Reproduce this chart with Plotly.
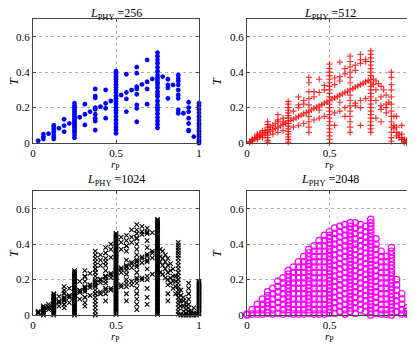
import plotly.graph_objects as go

# ---- data: columns of r_P positions with the T values read at each ----
r_256 = [0.03125, 0.0625, 0.09375, 0.125, 0.15625, 0.1875, 0.21875, 0.25, 0.28125, 0.3125,
         0.34375, 0.375, 0.40625, 0.4375, 0.46875, 0.5, 0.53125, 0.5625, 0.59375, 0.625,
         0.65625, 0.6875, 0.71875, 0.75, 0.78125, 0.8125, 0.84375, 0.875, 0.90625, 0.9375,
         0.96875, 1.0]
T_256 = [
    [0.013], [0.05, 0.035, 0.023], [0.053],
    [0.10, 0.09, 0.08, 0.065, 0.05, 0.036, 0.023], [0.083], [0.134, 0.098, 0.064], [0.111],
    [0.225, 0.21, 0.2, 0.19, 0.18, 0.17, 0.16, 0.15, 0.14, 0.13, 0.12, 0.11, 0.10, 0.09,
     0.08, 0.07, 0.06, 0.045, 0.03],
    [0.145], [0.219, 0.162, 0.102], [0.177],
    [0.305, 0.265, 0.255, 0.2, 0.19, 0.162, 0.14, 0.124, 0.073], [0.205],
    [0.30, 0.224, 0.196, 0.14], [0.237],
    [0.405, 0.39, 0.375, 0.36, 0.345, 0.33, 0.315, 0.30, 0.285, 0.265, 0.25, 0.235, 0.22,
     0.20, 0.185, 0.17, 0.15, 0.13, 0.11, 0.09, 0.075, 0.055],
    [0.271], [0.388, 0.286, 0.249, 0.177], [0.299],
    [0.428, 0.394, 0.318, 0.305, 0.275, 0.215, 0.196, 0.12], [0.331],
    [0.469, 0.346, 0.305, 0.219], [0.362],
    [0.51, 0.49, 0.469, 0.45, 0.428, 0.405, 0.384, 0.369, 0.356, 0.34, 0.328, 0.312, 0.29,
     0.275, 0.262, 0.237, 0.215, 0.2, 0.186, 0.165, 0.143, 0.124, 0.105, 0.086],
    [0.375], [0.36, 0.328, 0.312, 0.252], [0.328],
    [0.384, 0.365, 0.35, 0.328, 0.299, 0.271, 0.252, 0.186, 0.168], [0.168],
    [0.23, 0.2, 0.177, 0.14, 0.11, 0.073, 0.068], [0.036],
    [0.225, 0.21, 0.19, 0.17, 0.15, 0.13, 0.11, 0.095, 0.08, 0.065, 0.05, 0.035, 0.02,
     0.01, 0.0],
]

r_512 = [0.015625, 0.03125, 0.046875, 0.0625, 0.078125, 0.09375, 0.109375, 0.125, 0.140625,
         0.15625, 0.171875, 0.1875, 0.203125, 0.21875, 0.234375, 0.25, 0.265625, 0.28125,
         0.296875, 0.3125, 0.328125, 0.34375, 0.359375, 0.375, 0.390625, 0.40625, 0.421875,
         0.4375, 0.453125, 0.46875, 0.484375, 0.5, 0.515625, 0.53125, 0.546875, 0.5625,
         0.578125, 0.59375, 0.609375, 0.625, 0.640625, 0.65625, 0.671875, 0.6875, 0.703125,
         0.71875, 0.734375, 0.75, 0.765625, 0.78125, 0.796875, 0.8125, 0.828125, 0.84375,
         0.859375, 0.875, 0.890625, 0.90625, 0.921875, 0.9375, 0.953125, 0.96875, 0.984375,
         1.0]
T_512 = [
    [0.008, 0.003], [0.015, 0.01, 0.02], [0.022, 0.03], [0.03, 0.04, 0.02, 0.05],
    [0.037, 0.05], [0.045, 0.06, 0.03, 0.07], [0.052, 0.07],
    [0.12, 0.105, 0.09, 0.075, 0.06, 0.045, 0.03, 0.015, 0.005],
    [0.067, 0.09], [0.075, 0.1, 0.05], [0.082, 0.11], [0.09, 0.12, 0.16, 0.06, 0.13],
    [0.097], [0.105, 0.14, 0.12, 0.07], [0.112],
    [0.235, 0.22, 0.2, 0.185, 0.17, 0.155, 0.14, 0.125, 0.11, 0.095, 0.08, 0.065, 0.05,
     0.035, 0.02, 0.005],
    [0.127], [0.135, 0.18, 0.09], [0.142], [0.15, 0.26, 0.215, 0.2, 0.1], [0.157],
    [0.165, 0.24, 0.22, 0.11], [0.172],
    [0.37, 0.34, 0.29, 0.25, 0.215, 0.18, 0.15, 0.12, 0.09, 0.06],
    [0.187], [0.195, 0.29, 0.26, 0.13], [0.202], [0.36, 0.285, 0.21, 0.14, 0.185],
    [0.217], [0.225, 0.325, 0.3, 0.15], [0.232],
    [0.445, 0.42, 0.4, 0.38, 0.36, 0.34, 0.32, 0.3, 0.28, 0.26, 0.24, 0.22, 0.2, 0.18,
     0.16, 0.14, 0.12, 0.1, 0.08, 0.06, 0.04, 0.02, 0.0],
    [0.247], [0.255, 0.367, 0.33, 0.17, 0.1], [0.262], [0.27, 0.456, 0.375, 0.35, 0.18, 0.23],
    [0.277], [0.285, 0.42, 0.39, 0.2, 0.15], [0.292],
    [0.49, 0.46, 0.43, 0.4, 0.37, 0.34, 0.3, 0.27, 0.24, 0.21, 0.18, 0.15, 0.12, 0.09, 0.06],
    [0.307], [0.315, 0.44, 0.41, 0.225, 0.21], [0.322],
    [0.33, 0.5, 0.47, 0.45, 0.24, 0.2, 0.1], [0.337], [0.345, 0.47, 0.46, 0.25], [0.352],
    [0.52, 0.5, 0.48, 0.46, 0.44, 0.42, 0.4, 0.38, 0.36, 0.34, 0.32, 0.3, 0.28, 0.26, 0.24,
     0.22, 0.2, 0.18, 0.16, 0.14, 0.12, 0.1, 0.08, 0.06],
    [0.36, 0.33], [0.35, 0.3, 0.24, 0.14], [0.335], [0.32, 0.26, 0.21, 0.19, 0.12], [0.3],
    [0.27, 0.22, 0.17, 0.2], [0.23],
    [0.4, 0.37, 0.33, 0.3, 0.26, 0.22, 0.18, 0.15, 0.12, 0.09, 0.06, 0.03, 0.01],
    [0.15, 0.1, 0.08], [0.09, 0.06, 0.04, 0.15], [0.05, 0.03], [0.05, 0.1, 0.02, 0.03],
    [0.02, 0.01, 0.005], [0.015, 0.0, 0.005], [0.0, 0.005, 0.03],
    [0.2, 0.185, 0.17, 0.155, 0.14, 0.125, 0.11, 0.095, 0.08, 0.065, 0.05, 0.035, 0.02,
     0.01, 0.0],
]

# L_PHY = 1024: straight runs of points plus dense columns
r_1024_ray = [0.03125, 0.0625, 0.09375, 0.125, 0.15625, 0.1875, 0.21875, 0.25, 0.28125,
              0.3125, 0.34375, 0.375, 0.40625, 0.4375, 0.46875, 0.5, 0.53125, 0.5625,
              0.59375, 0.625, 0.65625, 0.6875, 0.71875, 0.75]
T_1024_top = [0.02, 0.04, 0.06, 0.085, 0.105, 0.125, 0.15, 0.17, 0.19, 0.215, 0.235, 0.26,
              0.28, 0.3, 0.325, 0.345, 0.37, 0.39, 0.41, 0.435, 0.455, 0.47, 0.465, 0.46]
T_1024_main = [0.016, 0.031, 0.047, 0.063, 0.078, 0.094, 0.11, 0.125, 0.14, 0.156, 0.172,
               0.188, 0.203, 0.22, 0.235, 0.25, 0.266, 0.28, 0.297, 0.312, 0.328, 0.344,
               0.36, 0.375]
T_1024_main2 = [0.015, 0.03, 0.045, 0.061, 0.076, 0.091, 0.106, 0.121, 0.136, 0.152, 0.167,
                0.182, 0.197, 0.212, 0.227, 0.243, 0.258, 0.273, 0.288, 0.303, 0.318, 0.333,
                0.349, 0.364]
T_1024_mid = [0.014, 0.028, 0.042, 0.056, 0.07, 0.084, 0.098, 0.112, 0.127, 0.141, 0.155,
              0.169, 0.183, 0.197, 0.211, 0.225, 0.239, 0.253, 0.267, 0.281, 0.295, 0.309,
              0.323, 0.337]
T_1024_low = [0.01, 0.02, 0.03, 0.04, 0.05, 0.06, 0.07, 0.08, 0.09, 0.1, 0.11, 0.12, 0.13,
              0.14, 0.15, 0.16, 0.17, 0.18, 0.19, 0.2, 0.21, 0.22, 0.23, 0.24]

r_1024 = [0.0625, 0.125, 0.1875, 0.25, 0.3125, 0.375, 0.40625, 0.4375, 0.46875, 0.5,
          0.53125, 0.5625, 0.59375, 0.625, 0.65625, 0.6875, 0.75, 0.765625, 0.78125,
          0.796875, 0.8125, 0.828125, 0.84375, 0.859375, 0.875, 0.890625, 0.90625,
          0.921875, 0.9375, 0.953125, 0.96875, 0.984375, 1.0]
T_1024 = [
    [0.05, 0.04, 0.03, 0.02, 0.01, 0.0],
    [0.12, 0.113, 0.105, 0.098, 0.09, 0.083, 0.075, 0.068, 0.06, 0.053, 0.045, 0.038, 0.03,
     0.023, 0.015, 0.008, 0.0],
    [0.16, 0.14, 0.12, 0.1, 0.08, 0.06, 0.04],
    [0.25, 0.242, 0.234, 0.226, 0.218, 0.21, 0.202, 0.194, 0.186, 0.178, 0.17, 0.162, 0.154,
     0.146, 0.138, 0.13, 0.122, 0.114, 0.106, 0.098, 0.09, 0.082, 0.074, 0.066, 0.058,
     0.05, 0.042, 0.034, 0.026, 0.018, 0.01, 0.0],
    [0.25, 0.22, 0.19, 0.16, 0.13, 0.1, 0.07, 0.05],
    [0.36, 0.34, 0.32, 0.3, 0.28, 0.26, 0.24, 0.22, 0.2, 0.18, 0.16, 0.14, 0.12, 0.1, 0.08,
     0.06, 0.04, 0.02, 0.0],
    [0.34, 0.31, 0.12],
    [0.38, 0.35, 0.32, 0.28, 0.25, 0.22, 0.18, 0.15, 0.12, 0.08],
    [0.4, 0.37, 0.14],
    [0.46, 0.452, 0.444, 0.436, 0.428, 0.42, 0.412, 0.404, 0.396, 0.388, 0.38, 0.372, 0.364,
     0.356, 0.348, 0.34, 0.332, 0.324, 0.316, 0.308, 0.3, 0.292, 0.284, 0.276, 0.268, 0.26,
     0.252, 0.244, 0.236, 0.228, 0.22, 0.212, 0.204, 0.196, 0.188, 0.18, 0.172, 0.164,
     0.156, 0.148, 0.14, 0.132, 0.124, 0.116, 0.108, 0.1, 0.092, 0.084, 0.076, 0.068, 0.06,
     0.052, 0.044, 0.036, 0.028, 0.02, 0.012, 0.004],
    [0.44, 0.41, 0.16],
    [0.45, 0.42, 0.39, 0.36, 0.31, 0.27, 0.23, 0.2, 0.16, 0.12, 0.08],
    [0.48, 0.44, 0.17],
    [0.51, 0.48, 0.46, 0.43, 0.4, 0.37, 0.34, 0.3, 0.27, 0.24, 0.21, 0.18, 0.15, 0.12, 0.09,
     0.06, 0.03],
    [0.5, 0.47, 0.2],
    [0.49, 0.46, 0.42, 0.38, 0.3, 0.26, 0.2, 0.15, 0.1, 0.06],
    [0.54, 0.532, 0.524, 0.516, 0.508, 0.5, 0.492, 0.484, 0.476, 0.468, 0.46, 0.452, 0.444,
     0.436, 0.428, 0.42, 0.412, 0.404, 0.396, 0.388, 0.38, 0.372, 0.364, 0.356, 0.348, 0.34,
     0.332, 0.324, 0.316, 0.308, 0.3, 0.292, 0.284, 0.276, 0.268, 0.26, 0.252, 0.244, 0.236,
     0.228, 0.22, 0.212, 0.204, 0.196, 0.188, 0.18, 0.172, 0.164, 0.156, 0.148, 0.14, 0.132,
     0.124, 0.116, 0.108, 0.1, 0.092, 0.084, 0.076, 0.068, 0.06, 0.052, 0.044, 0.036, 0.028,
     0.02, 0.012, 0.004],
    [0.37, 0.33, 0.3, 0.24],
    [0.36, 0.32, 0.28, 0.23],
    [0.34, 0.3, 0.26, 0.21],
    [0.32, 0.28, 0.24, 0.2, 0.17, 0.12, 0.08],
    [0.29, 0.25, 0.21, 0.18],
    [0.26, 0.22, 0.19, 0.15],
    [0.22, 0.19, 0.16, 0.12],
    [0.41, 0.395, 0.38, 0.365, 0.35, 0.335, 0.32, 0.3, 0.28, 0.26, 0.24, 0.22, 0.2, 0.18,
     0.16, 0.14, 0.12, 0.1, 0.08, 0.06, 0.04, 0.02, 0.005],
    [0.14, 0.11, 0.08, 0.05, 0.0],
    [0.1, 0.08, 0.05, 0.02, 0.0],
    [0.07, 0.05, 0.03, 0.01, 0.0],
    [0.18, 0.15, 0.12, 0.09, 0.06, 0.04, 0.02, 0.0],
    [0.02, 0.01, 0.0],
    [0.04, 0.01, 0.0],
    [0.01, 0.0],
    [0.19, 0.182, 0.174, 0.166, 0.158, 0.15, 0.142, 0.134, 0.126, 0.118, 0.11, 0.102, 0.094,
     0.086, 0.078, 0.07, 0.062, 0.054, 0.046, 0.038, 0.03, 0.022, 0.014, 0.006],
]

r_2048 = [0.0, 0.03125, 0.0625, 0.09375, 0.125, 0.15625, 0.1875, 0.21875, 0.25, 0.28125,
          0.3125, 0.34375, 0.375, 0.40625, 0.4375, 0.46875, 0.5, 0.53125, 0.5625, 0.59375,
          0.625, 0.65625, 0.6875, 0.71875, 0.75, 0.78125, 0.8125, 0.84375, 0.875, 0.90625,
          0.9375, 0.96875, 0.984375, 1.0]
T_2048 = [
    [0.0, 0.005],
    [0.03, 0.005],
    [0.06, 0.03, 0.005],
    [0.09, 0.06, 0.03, 0.005],
    [0.13, 0.11, 0.09, 0.07, 0.05, 0.03, 0.01],
    [0.15, 0.12, 0.09, 0.06, 0.03, 0.005],
    [0.19, 0.16, 0.13, 0.1, 0.07, 0.04, 0.01],
    [0.21, 0.18, 0.15, 0.12, 0.09, 0.06, 0.03, 0.005],
    [0.25, 0.23, 0.21, 0.19, 0.17, 0.15, 0.13, 0.11, 0.09, 0.07, 0.05, 0.03, 0.01],
    [0.27, 0.24, 0.21, 0.18, 0.15, 0.12, 0.09, 0.06, 0.03, 0.005],
    [0.3, 0.27, 0.24, 0.21, 0.18, 0.15, 0.12, 0.09, 0.06, 0.03, 0.005],
    [0.33, 0.3, 0.27, 0.24, 0.21, 0.18, 0.15, 0.12, 0.09, 0.06, 0.03, 0.005],
    [0.37, 0.35, 0.33, 0.31, 0.29, 0.27, 0.25, 0.23, 0.21, 0.19, 0.17, 0.15, 0.13, 0.11,
     0.09, 0.07, 0.05, 0.03, 0.01],
    [0.39, 0.36, 0.33, 0.3, 0.27, 0.24, 0.21, 0.18, 0.15, 0.12, 0.09, 0.06, 0.03, 0.005],
    [0.42, 0.39, 0.36, 0.33, 0.3, 0.27, 0.24, 0.21, 0.18, 0.15, 0.12, 0.09, 0.06, 0.03,
     0.005],
    [0.45, 0.42, 0.39, 0.36, 0.33, 0.3, 0.27, 0.24, 0.21, 0.18, 0.15, 0.12, 0.09, 0.06,
     0.03, 0.005],
    [0.47, 0.45, 0.43, 0.41, 0.39, 0.37, 0.35, 0.33, 0.31, 0.29, 0.27, 0.25, 0.23, 0.21,
     0.19, 0.17, 0.15, 0.13, 0.11, 0.09, 0.07, 0.05, 0.03, 0.01],
    [0.49, 0.46, 0.43, 0.4, 0.37, 0.34, 0.31, 0.28, 0.25, 0.22, 0.19, 0.16, 0.13, 0.1, 0.07,
     0.04, 0.01],
    [0.5, 0.47, 0.44, 0.41, 0.38, 0.35, 0.32, 0.29, 0.26, 0.23, 0.2, 0.17, 0.14, 0.11, 0.08,
     0.05, 0.02],
    [0.51, 0.48, 0.45, 0.42, 0.39, 0.36, 0.33, 0.3, 0.27, 0.24, 0.21, 0.18, 0.15, 0.12, 0.09,
     0.06, 0.03, 0.005],
    [0.52, 0.5, 0.48, 0.46, 0.44, 0.42, 0.4, 0.38, 0.36, 0.34, 0.32, 0.3, 0.28, 0.26, 0.24,
     0.22, 0.2, 0.18, 0.16, 0.14, 0.12, 0.1, 0.08, 0.06, 0.04, 0.02],
    [0.52, 0.49, 0.46, 0.43, 0.4, 0.37, 0.34, 0.31, 0.28, 0.25, 0.22, 0.19, 0.16, 0.13, 0.1,
     0.07, 0.04, 0.01],
    [0.51, 0.48, 0.45, 0.42, 0.39, 0.36, 0.33, 0.3, 0.27, 0.24, 0.21, 0.18, 0.15, 0.12, 0.09,
     0.06, 0.03],
    [0.5, 0.47, 0.44, 0.41, 0.38, 0.35, 0.32, 0.29, 0.26, 0.23, 0.2, 0.17, 0.14, 0.11, 0.08,
     0.05, 0.02],
    [0.54, 0.52, 0.5, 0.48, 0.46, 0.44, 0.42, 0.4, 0.38, 0.36, 0.34, 0.32, 0.3, 0.28, 0.26,
     0.24, 0.22, 0.2, 0.18, 0.16, 0.14, 0.12, 0.1, 0.08, 0.06, 0.04, 0.02, 0.0],
    [0.43, 0.4, 0.37, 0.34, 0.31, 0.28, 0.25, 0.22, 0.19, 0.16, 0.13, 0.1, 0.07, 0.04, 0.01],
    [0.36, 0.33, 0.3, 0.27, 0.24, 0.21, 0.18, 0.15, 0.12, 0.09, 0.06, 0.03, 0.005],
    [0.33, 0.3, 0.27, 0.24, 0.21, 0.18, 0.15, 0.12, 0.09, 0.06, 0.03, 0.005],
    [0.38, 0.36, 0.34, 0.32, 0.3, 0.28, 0.26, 0.24, 0.22, 0.2, 0.18, 0.16, 0.14, 0.12, 0.1,
     0.08, 0.06, 0.04, 0.02, 0.0],
    [0.2, 0.17, 0.14, 0.11, 0.08, 0.05, 0.02],
    [0.12, 0.09, 0.06, 0.03, 0.005],
    [0.04, 0.02, 0.005],
    [0.01, 0.0],
    [0.17, 0.15, 0.13, 0.11, 0.09, 0.07, 0.05, 0.03, 0.01],
]

sizes = ["256", "512", "1024", "2048"]


def flatten(cols, vals):
    xs, ys = [], []
    for r, ts in zip(cols, vals):
        xs += [r] * len(ts)
        ys += ts
    return xs, ys


fig = go.Figure()

# ---- L_PHY = 256 ----
x, y = flatten(r_256, T_256)
fig.add_trace(go.Scatter(
    x=x, y=y, mode="markers", xaxis="x", yaxis="y", cliponaxis=False,
    marker=dict(symbol="asterisk-open", size=4, color="#0000ff",
                line=dict(width=1.4, color="#0000ff")),
))

# ---- L_PHY = 512 ----
x, y = flatten(r_512, T_512)
fig.add_trace(go.Scatter(
    x=x, y=y, mode="markers", xaxis="x2", yaxis="y2", cliponaxis=False,
    marker=dict(symbol="cross-thin-open", size=4.5, color="rgba(255,0,0,0.8)",
                line=dict(width=1.2, color="rgba(255,0,0,0.8)")),
))

# ---- L_PHY = 1024 ----
x, y = flatten(r_1024, T_1024)
for ray in [T_1024_top, T_1024_main, T_1024_main2, T_1024_mid, T_1024_low]:
    x += r_1024_ray
    y += ray
fig.add_trace(go.Scatter(
    x=x, y=y, mode="markers", xaxis="x3", yaxis="y3", cliponaxis=False,
    marker=dict(symbol="x-thin-open", size=4.5, color="black",
                line=dict(width=1.1, color="black")),
))

# ---- L_PHY = 2048 ----
x, y = flatten(r_2048, T_2048)
fig.add_trace(go.Scatter(
    x=x, y=y, mode="markers", xaxis="x4", yaxis="y4", cliponaxis=False,
    marker=dict(symbol="circle-open", size=6.5, color="#ff00ff",
                line=dict(width=1.2, color="#ff00ff")),
))

# ---- Layout ----
# page body has an 8px margin, so the figure is sized/placed to land on the reference pixels
W, H = 407, 336
serif = "Liberation Serif"
xdom = [[25 / W, 191 / W], [239 / W, 404 / W]]
ydom = [[1 - 135 / H, 1 - 11 / H], [1 - 307 / H, 1 - 183 / H]]

axis_common = dict(
    showline=True, linecolor="#444", linewidth=1, mirror="ticks",
    ticks="inside", ticklen=3, tickcolor="#444",
    showgrid=True, gridcolor="#b0b0b0", griddash="dot", gridwidth=1,
    zeroline=False, automargin=False,
    tickfont=dict(family=serif, size=11, color="black"),
)

layout = dict(
    width=W, height=H, margin=dict(l=0, r=0, t=0, b=0),
    paper_bgcolor="white", plot_bgcolor="white", showlegend=False,
    font=dict(family=serif, color="black"),
)

title_shift = [5, 11]
T_shift = [-19, -30]
annotations = []
for i in range(4):
    row, col = divmod(i, 2)
    sfx = "" if i == 0 else str(i + 1)
    layout["xaxis" + sfx] = dict(
        axis_common, domain=xdom[col], range=[0, 1], anchor="y" + sfx,
        tickvals=[0, 0.5, 1], ticktext=["0", "0.5", "1"],
    )
    layout["yaxis" + sfx] = dict(
        axis_common, domain=ydom[row], range=[0, 0.7], anchor="x" + sfx,
        tickvals=[0, 0.2, 0.4, 0.6], ticktext=["0", "0.2", "0.4", "0.6"],
    )
    xc = (xdom[col][0] + xdom[col][1]) / 2
    yc = (ydom[row][0] + ydom[row][1]) / 2
    annotations.append(dict(
        x=xc, y=ydom[row][1], xref="paper", yref="paper",
        xanchor="center", yanchor="middle", yshift=title_shift[row],
        text="<i>L</i><sub>PHY</sub> =" + sizes[i], showarrow=False,
        font=dict(family=serif, size=12),
    ))
    annotations.append(dict(
        x=xc, y=ydom[row][0], xref="paper", yref="paper",
        xanchor="center", yanchor="middle", yshift=-22,
        text="<i>r</i><sub>P</sub>", showarrow=False,
        font=dict(family=serif, size=11),
    ))
    annotations.append(dict(
        x=xdom[col][0], y=yc, xref="paper", yref="paper",
        xanchor="center", yanchor="middle", xshift=T_shift[col],
        text="<i>T</i>", showarrow=False, textangle=-90,
        font=dict(family=serif, size=12),
    ))

layout["annotations"] = annotations
fig.update_layout(layout)

fig.write_html("out.html")
